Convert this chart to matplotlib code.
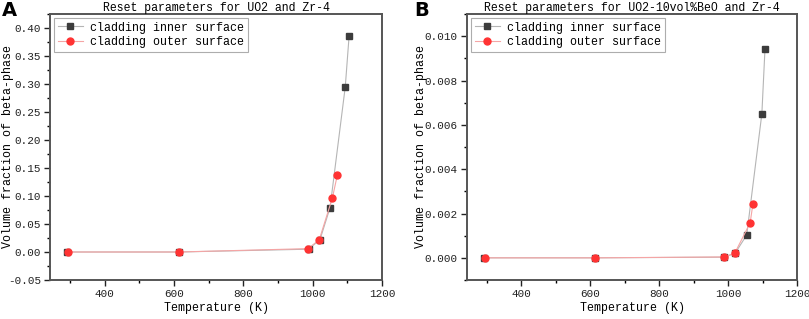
import matplotlib.pyplot as plt
from matplotlib.ticker import MultipleLocator

plt.rcParams['font.family'] = ['Liberation Mono', 'DejaVu Sans Mono']
plt.rcParams['font.size'] = 8.4

# Panel A: UO2 and Zr-4
a_inner_t = [290, 613, 988, 1021, 1050, 1094, 1105]
a_inner_v = [0.0, 0.0, 0.005, 0.022, 0.079, 0.295, 0.385]
a_outer_t = [294, 613, 987, 1019, 1057, 1071]
a_outer_v = [0.0, 0.0, 0.006, 0.022, 0.097, 0.137]

# Panel B: UO2-10vol%BeO and Zr-4
b_inner_t = [290, 613, 988, 1020, 1054, 1098, 1107]
b_inner_v = [0.0, 0.0, 0.00003, 0.0002, 0.00103, 0.0065, 0.0094]
b_outer_t = [294, 613, 987, 1019, 1064, 1072]
b_outer_v = [0.0, 0.0, 0.00004, 0.0002, 0.00158, 0.00243]

fig = plt.figure(figsize=(8.09, 3.19), dpi=100)
ax1 = fig.add_axes([50 / 809, 1 - 280 / 319, 332 / 809, 266 / 319])
ax2 = fig.add_axes([467 / 809, 1 - 280 / 319, 330 / 809, 266 / 319])

panels = [
    (ax1, a_inner_t, a_inner_v, a_outer_t, a_outer_v, 'Reset parameters for UO2 and Zr-4',
     (-0.05, 0.425), 0.05, 0.025, '%.2f', -0.108),
    (ax2, b_inner_t, b_inner_v, b_outer_t, b_outer_v, 'Reset parameters for UO2-10vol%BeO and Zr-4',
     (-0.001, 0.011), 0.002, 0.001, '%.3f', -0.12),
]

for ax, it, iv, ot, ov, title, ylim, major, minor, fmt, ylx in panels:
    ax.plot(it, iv, color='#b5b5b5', lw=0.8, marker='s', ms=4.2, mfc='#3c3c3c', mec='#3c3c3c',
            label='cladding inner surface', zorder=2)
    ax.plot(ot, ov, color='#f5a5a5', lw=0.8, marker='o', ms=5, mfc='#ff3333', mec='#ff3333',
            label='cladding outer surface', zorder=3)
    ax.set_xlim(242, 1200)
    ax.set_ylim(*ylim)
    ax.xaxis.set_major_locator(MultipleLocator(200))
    ax.xaxis.set_minor_locator(MultipleLocator(100))
    ax.yaxis.set_major_locator(MultipleLocator(major))
    ax.yaxis.set_minor_locator(MultipleLocator(minor))
    ax.yaxis.set_major_formatter(plt.FormatStrFormatter(fmt))
    ax.tick_params(direction='out', length=4, width=1, colors='#222222', top=False, right=False,
                   labelsize=7.9, pad=2.5)
    ax.tick_params(which='minor', length=2.5, width=1)
    for s in ax.spines.values():
        s.set_linewidth(1.4)
        s.set_color('#555555')
    ax.set_title(title, fontsize=8.3, pad=2)
    ax.set_xlabel('Temperature (K)', labelpad=2, fontsize=8.4)
    ax.set_ylabel('Volume fraction of beta-phase', fontsize=8.4)
    ax.yaxis.set_label_coords(ylx, 0.5)
    leg = ax.legend(loc='upper left', fancybox=False, borderpad=0.3, handlelength=2.2,
                    handletextpad=0.6, labelspacing=0.25, borderaxespad=0.35, fontsize=8.4)
    leg.get_frame().set_edgecolor('#999999')
    leg.get_frame().set_linewidth(0.8)

fig.text(2 / 809, 1 - 1 / 319, 'A', fontsize=14, fontweight='bold', family='DejaVu Sans', va='top')
fig.text(414 / 809, 1 - 1 / 319, 'B', fontsize=14, fontweight='bold', family='DejaVu Sans', va='top')

plt.savefig('out.png', dpi=100)
